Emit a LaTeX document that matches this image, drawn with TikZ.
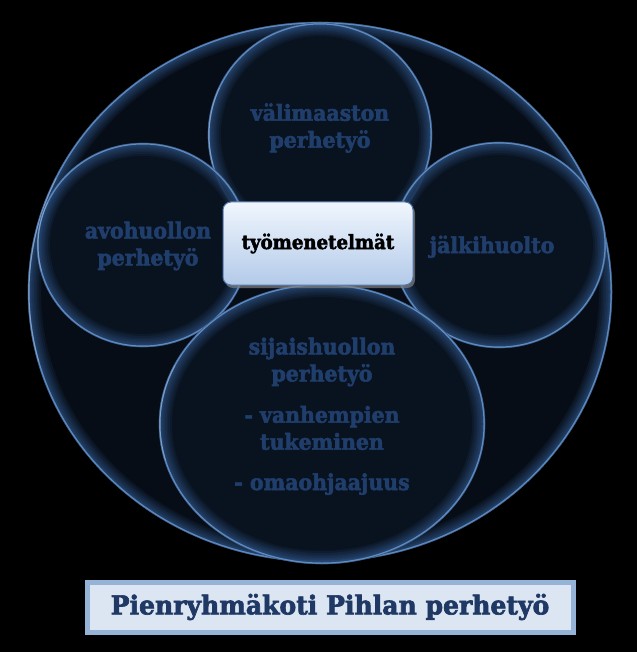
\documentclass[tikz,border=0pt]{standalone}
\usepackage{fontspec}
\setmainfont{DejaVu Serif}
\newfontfamily\heavy{DejaVu Serif Bold}[FakeStretch=0.93, FakeBold=2.5]
\newfontfamily\heavywide{DejaVu Serif Bold}[FakeStretch=0.965, FakeBold=2.5]
\usetikzlibrary{shadows}
\definecolor{bubblefill}{HTML}{0A1321}
\definecolor{bigfill}{HTML}{09101C}
\definecolor{rimc}{HTML}{6A9AD6}
\definecolor{glowc}{HTML}{3E6EAC}
\definecolor{bubtext}{HTML}{203E6B}
\definecolor{boxtop}{HTML}{F0F6FD}
\definecolor{boxbot}{HTML}{B3CAE9}
\definecolor{boxline}{HTML}{5579AB}
\definecolor{titlefill}{HTML}{DCE6F2}
\definecolor{titleline}{HTML}{95B3D7}
\definecolor{titletext}{HTML}{1F3864}
\tikzset{
  bubtxt/.style={text=bubtext, align=center, font=\heavy\fontsize{22}{27}\selectfont, inner sep=0pt},
  centerbox/.style={draw=boxline, line width=1pt, rounded corners=8pt, top color=boxtop, bottom color=boxbot,
     minimum width=190pt, minimum height=83pt, inner sep=0pt,
     font=\heavy\fontsize{19.5}{24}\selectfont, text=black,
     drop shadow={opacity=0.7, shadow xshift=2pt, shadow yshift=-3pt}},
  titlebox/.style={fill=titlefill, draw=titleline, line width=5pt, minimum width=486pt, minimum height=50pt,
     inner sep=0pt, font=\heavywide\fontsize{26}{30}\selectfont, text=titletext}
}
\newcommand\mybubble[5]{%
  \fill[#5, fill opacity=0.84] (#1,#2) ellipse [x radius=#3, y radius=#4];
  \begin{scope}
    \clip (#1,#2) ellipse [x radius=#3, y radius=#4];
    \foreach \w in {26,22,18,15,12,9,7,5,3.5} {
      \draw[glowc, line width=\w pt, opacity=0.09] (#1,#2) ellipse [x radius=#3, y radius=#4];
    }
    \draw[rimc, line width=3pt, opacity=0.85] (#1,#2) ellipse [x radius=#3, y radius=#4];
    \draw[white, line width=3pt, opacity=0.18] (#1,#2) ++(165:#3 and #4) arc [start angle=165, end angle=205, x radius=#3, y radius=#4];
  \end{scope}
  \draw[rimc!60!black, line width=0.7pt, opacity=0.7] (#1,#2) ellipse [x radius=#3, y radius=#4];
}
\begin{document}
\begin{tikzpicture}[x=1pt,y=-1pt]
\fill[black] (0,0) rectangle (637,652);
\useasboundingbox (0,0) rectangle (637,652);
% outer ellipse
\mybubble{320}{292}{292}{270}{bigfill}
% inner bubbles
\mybubble{320}{135}{112}{112}{bubblefill}
\mybubble{143}{245}{106}{102}{bubblefill}
\mybubble{499}{245}{107}{103}{bubblefill}
\mybubble{322}{424}{163}{140}{bubblefill}
% bubble texts
\node[bubtxt] (vali) at (320,128) {välimaaston\\perhetyö};
\node[bubtxt] (avo) at (148,246) {avohuollon\\perhetyö};
\node[bubtxt, anchor=base] (jalki) at (492,253) {jälkihuolto};
\node[bubtxt] (sij) at (322,362) {sijaishuollon\\perhetyö};
\node[bubtxt] (vanh) at (322,428) {- vanhempien\\tukeminen};
\node[bubtxt, anchor=base] (oma) at (322,490) {- omaohjaajuus};
% center box
\node[centerbox] (tyo) at (318,243.5) {työmenetelmät};
% title
\node[titlebox] (title) at (330,607) {Pienryhmäkoti Pihlan perhetyö};
\end{tikzpicture}
\end{document}
